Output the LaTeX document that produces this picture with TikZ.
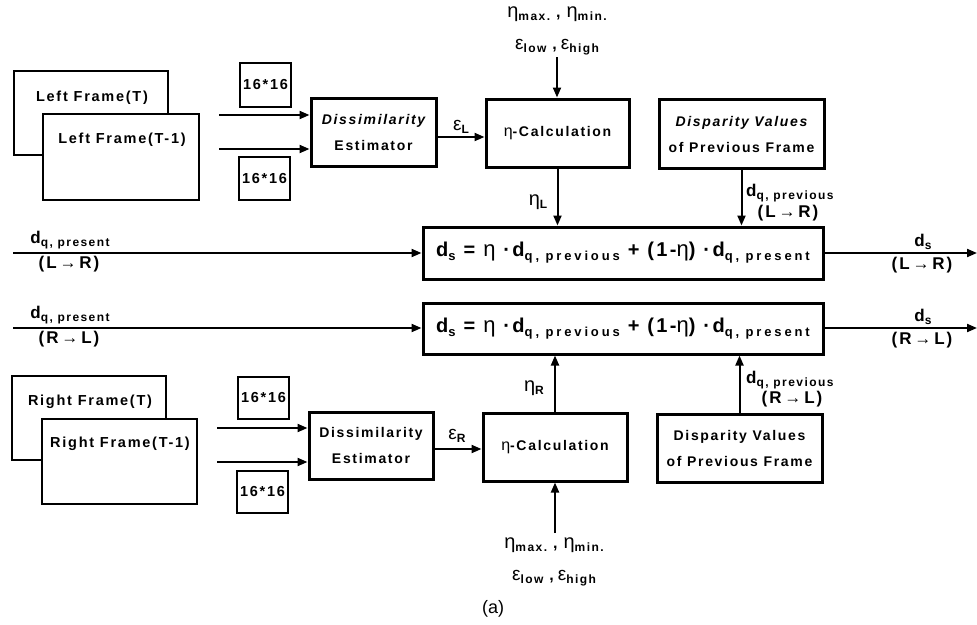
\documentclass[tikz,border=0pt]{standalone}
\usepackage{fontspec}
\setmainfont{Liberation Sans}[LetterSpace=12]
\newfontfamily\plainf{Liberation Sans}
\newfontfamily\widef{Liberation Sans}[LetterSpace=22]
\usetikzlibrary{arrows.meta}
\newcommand{\mysub}[1]{\raisebox{-3pt}{\fontsize{12}{12}\selectfont\bfseries #1}}
\newcommand{\eqsub}[1]{\raisebox{-4pt}{\fontsize{13}{13}\selectfont\widef\bfseries #1}}
\newcommand{\myeta}{{\plainf\mdseries η}}
\newcommand{\myeps}{{\plainf\mdseries ε}}
\newcommand{\params}{{\fontsize{20}{20}\selectfont\myeta}\mysub{max.}\hspace{6pt}{\fontsize{16}{16}\selectfont\bfseries ,}\hspace{6pt}{\fontsize{20}{20}\selectfont\myeta}\mysub{min.}}
\newcommand{\epspar}{{\fontsize{19}{19}\selectfont\myeps}\mysub{low}\hspace{6pt}{\fontsize{16}{16}\selectfont\bfseries ,}\hspace{4pt}{\fontsize{19}{19}\selectfont\myeps}\mysub{high}}
\newcommand{\eqn}{{\fontsize{20}{20}\selectfont\bfseries d\eqsub{s}\ =\ {\fontsize{22}{22}\selectfont\plainf\mdseries η}\ ·d\eqsub{q, previous}\ +\ (1-{\fontsize{22}{22}\selectfont\plainf\mdseries η})\ ·d\eqsub{q, present}}}
\newcommand{\dprev}{{\fontsize{17}{17}\selectfont\bfseries d}\mysub{q, previous}}
\newcommand{\dpres}{{\fontsize{17}{17}\selectfont\bfseries d}\mysub{q, present}}
\begin{document}
\begin{tikzpicture}[x=1pt,y=-1pt,
  thin/.style={draw, line width=1.6pt, fill=white, inner sep=0pt},
  thick/.style={draw, line width=3pt, fill=white, inner sep=0pt, align=center, font=\fontsize{14}{26}\selectfont\bfseries},
  lbl/.style={font=\fontsize{14.5}{16}\selectfont\bfseries, inner sep=0pt},
  dir/.style={font=\fontsize{17}{17}\selectfont\bfseries, inner sep=0pt},
  arr/.style={line width=2pt, -{Triangle[length=10pt,width=8pt]}}]
\useasboundingbox (0,0) rectangle (977,624);

% ---------- top half ----------
\node[thin, minimum width=154pt, minimum height=84pt] (lfT) at (91,113) {};
\node[lbl] (lfTt) at (92,98) {Left Frame(T)};
\node[thin, minimum width=156pt, minimum height=86pt] (lfT1) at (121,157) {};
\node[lbl] (lfT1t) at (122,140) {Left Frame(T-1)};
\node[thin, lbl, draw, minimum width=51pt, minimum height=44pt] (s1a) at (265.5,85) {16*16};
\node[thin, lbl, draw, minimum width=51pt, minimum height=43pt] (s1b) at (264.5,178.5) {16*16};
\node[thick, minimum width=125pt, minimum height=68pt] (de1) at (373.5,132) {\itshape Dissimilarity\\Estimator};
\node[thick, minimum width=143pt, minimum height=68pt] (eta1) at (557.5,133) {{\fontsize{16}{16}\selectfont\myeta}-Calculation};
\node[thick, minimum width=165pt, minimum height=69pt] (dv1) at (741.5,134) {\itshape Disparity Values\\of Previous Frame};
\node[thick, minimum width=400pt, minimum height=52pt] (big1) at (623,253) {\eqn};

\coordinate (i1a) at (219,115);
\coordinate (i1b) at (219,149);
\draw[arr] (i1a) -- (i1a -| de1.west);
\draw[arr] (i1b) -- (i1b -| de1.west);
\draw[arr] ([yshift=-5pt]de1.east) -- ([yshift=-5pt]de1.east -| eta1.west);
\node[inner sep=0pt] (epsL) at (461,127) {{\fontsize{19}{19}\selectfont\myeps}\mysub{L}};

\node[inner sep=0pt] (par1) at (557,14) {\params};
\node[inner sep=0pt] (eps1) at (557,47) {\epspar};
\coordinate (p1) at (557,57);
\draw[arr] (p1) -- (p1 |- eta1.north);

\draw[arr] (eta1.south) -- (eta1.south |- big1.north);
\node[inner sep=0pt] (etaL) at (538,202) {{\fontsize{20}{20}\selectfont\myeta}\mysub{L}};
\draw[arr] (dv1.south) -- (dv1.south |- big1.north);
\node[inner sep=0pt, anchor=west] (dp1) at (746,193) {\dprev};
\node[dir] (dp1d) at (788,213) {(L\,→\,R)};

\coordinate (in1) at (13,253);
\coordinate (out1) at (977,253);
\draw[arr] (in1) -- (big1.west);
\draw[arr] (big1.east) -- (out1);
\node[inner sep=0pt, anchor=south] (dq1) at (70,249) {\dpres};
\node[dir, anchor=north] (dq1d) at (69,256) {(L\,→\,R)};
\node[inner sep=0pt, anchor=south] (ds1) at (923,250) {{\fontsize{17}{17}\selectfont\bfseries d}\mysub{s}};
\node[dir, anchor=north] (ds1d) at (922,257) {(L\,→\,R)};

% ---------- bottom half ----------
\node[thick, minimum width=400pt, minimum height=51pt] (big2) at (623,328.5) {\eqn};
\coordinate (in2) at (13,328);
\coordinate (out2) at (977,328);
\draw[arr] (in2) -- (in2 -| big2.west);
\draw[arr] (big2.east |- out2) -- (out2);
\node[inner sep=0pt, anchor=south] (dq2) at (70,324) {\dpres};
\node[dir, anchor=north] (dq2d) at (69,331) {(R\,→\,L)};
\node[inner sep=0pt, anchor=south] (ds2) at (923,325) {{\fontsize{17}{17}\selectfont\bfseries d}\mysub{s}};
\node[dir, anchor=north] (ds2d) at (922,332) {(R\,→\,L)};

\node[thin, minimum width=154pt, minimum height=84pt] (rfT) at (89,418) {};
\node[lbl] (rfTt) at (90,402) {Right Frame(T)};
\node[thin, minimum width=155pt, minimum height=85pt] (rfT1) at (119.5,461.5) {};
\node[lbl] (rfT1t) at (120,444) {Right Frame(T-1)};
\node[thin, lbl, draw, minimum width=51pt, minimum height=42pt] (s2a) at (263.5,398) {16*16};
\node[thin, lbl, draw, minimum width=51pt, minimum height=42pt] (s2b) at (262.5,492) {16*16};
\node[thick, minimum width=124pt, minimum height=67pt] (de2) at (371,445.5) {Dissimilarity\\Estimator};
\node[thick, minimum width=144pt, minimum height=68pt] (eta2) at (555,447) {{\fontsize{16}{16}\selectfont\myeta}-Calculation};
\node[thick, minimum width=165pt, minimum height=68pt] (dv2) at (739.5,448) {Disparity Values\\of Previous Frame};

\coordinate (i2a) at (217,428);
\coordinate (i2b) at (217,462);
\draw[arr] (i2a) -- (i2a -| de2.west);
\draw[arr] (i2b) -- (i2b -| de2.west);
\draw[arr] ([yshift=-3.5pt]de2.east) -- ([yshift=-3.5pt]de2.east -| eta2.west);
\node[inner sep=0pt] (epsR) at (457,436) {{\fontsize{19}{19}\selectfont\myeps}\mysub{R}};

\draw[arr] (eta2.north) -- (eta2.north |- big2.south);
\node[inner sep=0pt] (etaR) at (534,388) {{\fontsize{20}{20}\selectfont\myeta}\mysub{R}};
\draw[arr] (dv2.north) -- (dv2.north |- big2.south);
\node[inner sep=0pt, anchor=west] (dp2) at (746,380) {\dprev};
\node[dir] (dp2d) at (792,399) {(R\,→\,L)};

\coordinate (p2) at (555,533);
\draw[arr] (p2) -- (p2 |- eta2.south);
\node[inner sep=0pt] (par2) at (554,545) {\params};
\node[inner sep=0pt] (eps2) at (554,578) {\epspar};

\node[inner sep=0pt, font=\fontsize{18}{18}\selectfont\plainf] (cap) at (493,609) {(a)};
\end{tikzpicture}
\end{document}
